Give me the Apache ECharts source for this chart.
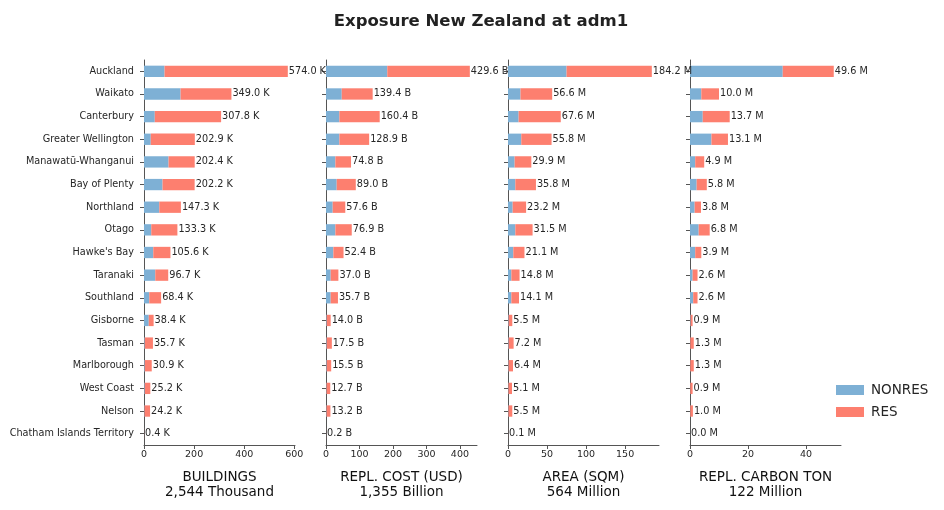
<!DOCTYPE html>
<html>
<head>
<meta charset="utf-8">
<script src="https://cdn.jsdelivr.net/npm/echarts@6/dist/echarts.min.js"></script>
<style>
  html, body { margin: 0; padding: 0; background: #fff; }
  #chart { width: 944px; height: 510px; }
</style>
</head>
<body>
<div id="chart"></div>
<script>
// regions, top to bottom
const regions = [
  "Auckland", "Waikato", "Canterbury", "Greater Wellington", "Manawatū-Whanganui",
  "Bay of Plenty", "Northland", "Otago", "Hawke's Bay", "Taranaki", "Southland",
  "Gisborne", "Tasman", "Marlborough", "West Coast", "Nelson", "Chatham Islands Territory"
];

// buildings (thousand)
const bldNonres = [82, 146, 43, 27, 98, 74, 61, 29, 37, 45, 21, 19, 3, 3, 3, 2, 0.1];
const bldRes = [492.0, 203.0, 264.8, 175.9, 104.4, 128.2, 86.3, 104.3, 68.6, 51.7, 47.4, 19.4, 32.7, 27.9, 22.2, 22.2, 0.3];

// replacement cost (billion USD)
const costNonres = [183, 47, 40, 40, 28, 32, 20, 28, 22, 14, 14, 2, 2, 2, 1.5, 1.5, 0.05];
const costRes = [246.6, 92.4, 120.4, 88.9, 46.8, 57.0, 37.6, 48.9, 30.4, 23.0, 21.7, 12.0, 15.5, 13.5, 11.2, 11.7, 0.15];

// area (million sqm)
const areaNonres = [75, 16, 13.6, 17, 8.5, 9.4, 6, 9.4, 6.8, 4.3, 4.3, 0.8, 0.8, 0.7, 0.6, 0.6, 0.02];
const areaRes = [109.2, 40.6, 54.0, 38.8, 21.4, 26.4, 17.2, 22.1, 14.3, 10.5, 9.8, 4.7, 6.4, 5.7, 4.5, 4.9, 0.08];

// replacement carbon (million ton)
const carbNonres = [32, 3.9, 4.4, 7.4, 1.8, 2.3, 1.6, 3.0, 1.8, 0.9, 1.1, 0.2, 0.1, 0.1, 0.1, 0.1, 0];
const carbRes = [17.6, 6.1, 9.3, 5.7, 3.1, 3.5, 2.2, 3.8, 2.1, 1.7, 1.5, 0.7, 1.2, 1.2, 0.8, 0.9, 0.0];

const xTitles = ["BUILDINGS\n2,544 Thousand", "REPL. COST (USD)\n1,355 Billion", "AREA (SQM)\n564 Million", "REPL. CARBON TON\n122 Million"];
const unitSuffix = ["K", "B", "M", "M"];
const xTicks = [[0, 200, 400, 600], [0, 100, 200, 300, 400], [0, 50, 100, 150], [0, 20, 40]];
const xMax = [602.7, 451, 193.4, 52.1];

const panels = [
  [bldNonres, bldRes], [costNonres, costRes], [areaNonres, areaRes], [carbNonres, carbRes]
];

const FONT = "DejaVu Sans";
const TXT = "#262626";
const AXIS = "#555";
const BLUE = "#7eb0d5";
const RED = "#fd7f6f";

// grid positions (px)
const gridLeft = [144, 326, 508, 690];
const gridWidth = 151;

let grids = [], xAxes = [], yAxes = [], series = [];

panels.forEach(function (p, i) {
  grids.push({ left: gridLeft[i], width: gridWidth, top: 60, height: 385 });

  xAxes.push({
    type: "value",
    gridIndex: i,
    min: 0,
    max: xMax[i],
    splitLine: { show: false },
    axisLine: { show: true, lineStyle: { color: AXIS, width: 1 } },
    axisTick: { show: true, length: 4, lineStyle: { color: AXIS }, customValues: xTicks[i] },
    axisLabel: { fontFamily: FONT, fontSize: 9.5, color: TXT, margin: 5, customValues: xTicks[i] },
    name: xTitles[i],
    nameLocation: "middle",
    nameGap: 25,
    nameTextStyle: { fontFamily: FONT, fontSize: 13.5, color: "#111", lineHeight: 15, verticalAlign: "top" }
  });

  yAxes.push({
    type: "category",
    gridIndex: i,
    data: regions,
    inverse: true,
    axisLine: { show: true, lineStyle: { color: AXIS, width: 1 } },
    axisTick: { show: true, length: 4, alignWithLabel: true, lineStyle: { color: AXIS } },
    axisLabel: { show: i === 0, fontFamily: FONT, fontSize: 9.7, color: TXT, margin: 10 }
  });

  series.push({
    name: "NONRES",
    type: "bar",
    stack: "s" + i,
    xAxisIndex: i,
    yAxisIndex: i,
    barWidth: "50%",
    itemStyle: { color: BLUE },
    data: p[0]
  });
  series.push({
    name: "RES",
    type: "bar",
    stack: "s" + i,
    xAxisIndex: i,
    yAxisIndex: i,
    barWidth: "50%",
    itemStyle: { color: RED },
    label: {
      show: true,
      position: "right",
      distance: 1,
      fontFamily: FONT,
      fontSize: 9.7,
      color: TXT,
      formatter: function (params) {
        let total = p[0][params.dataIndex] + p[1][params.dataIndex];
        return total.toFixed(1) + " " + unitSuffix[i];
      }
    },
    data: p[1]
  });
});

let chart = echarts.init(document.getElementById("chart"));
chart.setOption({
  animation: false,
  title: {
    text: "Exposure New Zealand at adm1",
    left: 476,
    textAlign: "center",
    top: 8,
    textStyle: { fontFamily: FONT, fontSize: 16.5, fontWeight: "bold", color: "#222" }
  },
  legend: {
    data: ["NONRES", "RES"],
    orient: "vertical",
    left: 831,
    top: 378,
    itemWidth: 28,
    itemHeight: 10,
    itemGap: 8,
    icon: "rect",
    textStyle: { fontFamily: FONT, fontSize: 13.5, color: TXT, padding: [0, 0, 0, 2] }
  },
  grid: grids,
  xAxis: xAxes,
  yAxis: yAxes,
  series: series
});
</script>
</body>
</html>
